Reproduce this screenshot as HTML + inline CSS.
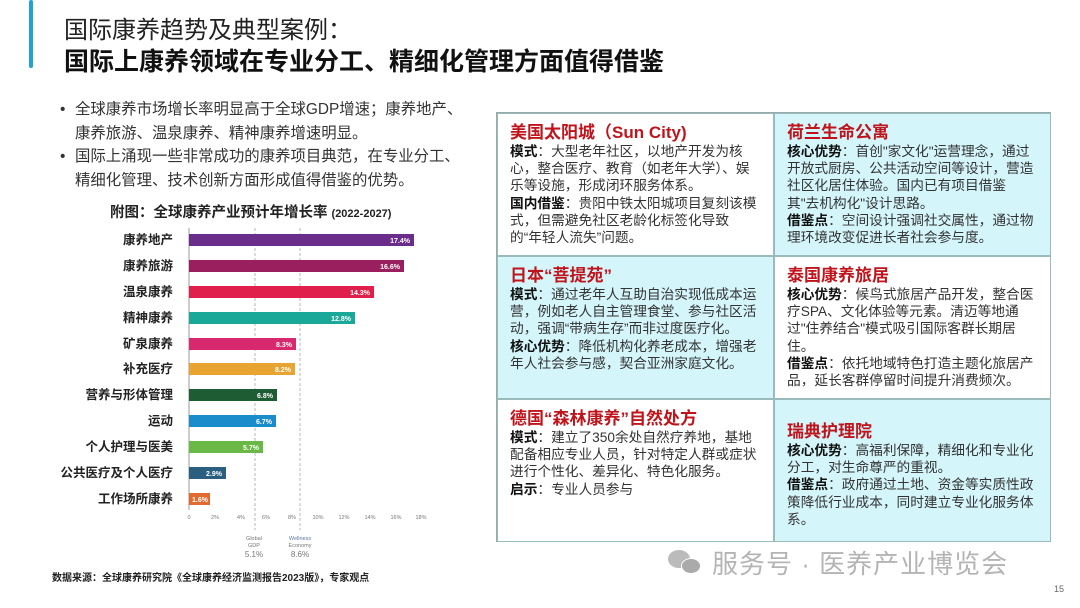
<!DOCTYPE html>
<html><head><meta charset="utf-8"><style>
*{margin:0;padding:0;box-sizing:border-box}
body{width:1080px;height:608px;background:#fff;position:relative;overflow:hidden;font-family:"Liberation Sans","Noto Sans CJK SC",sans-serif;color:#222}
.abs{position:absolute}
.t1{left:64px;top:10px;font-size:24px;color:#222;white-space:nowrap}
.t2{left:64px;top:42px;font-size:25px;font-weight:bold;color:#111;white-space:nowrap}
.bul{left:58px;font-size:15.4px;line-height:23.5px;color:#333;width:440px;white-space:nowrap}
.bul li{list-style:none;position:relative;padding-left:17px}
.bul li:before{content:"•";position:absolute;left:2px}
.grid{left:496px;top:112px;width:555px;height:430px;border:1px solid #9aa;}
.cell{position:absolute;width:277px;height:143px;padding:9px 14px 0 12px;font-size:13.7px;line-height:17.2px;color:#333;border:1px solid #9bb;overflow:hidden}
.cell h3{font-size:17px;color:#c0141c;line-height:20px;margin-bottom:0;white-space:nowrap}
.cell b{color:#111}
.cy{background:#d4f6fb}
</style></head><body>
<div class="abs" style="left:29px;top:0;width:4px;height:68px;background:#1fa3d4;border-radius:2px"></div>
<div class="abs t1">国际康养趋势及典型案例：</div>
<div class="abs t2">国际上康养领域在专业分工、精细化管理方面值得借鉴</div>
<ul class="abs bul" style="top:98px">
<li>全球康养市场增长率明显高于全球GDP增速；康养地产、<br>康养旅游、温泉康养、精神康养增速明显。</li>
<li>国际上涌现一些非常成功的康养项目典范，在专业分工、<br>精细化管理、技术创新方面形成值得借鉴的优势。</li>
</ul>
<div class="abs" style="left:110px;top:201px;font-size:14.5px;font-weight:bold;white-space:nowrap">附图：全球康养产业预计年增长率 <span style="font-size:11px">(2022-2027)</span></div>
<svg class="abs" style="left:0;top:0" width="480" height="608">
<g stroke="#888" stroke-width="0.6" stroke-dasharray="3,2">
<line x1="255" y1="228" x2="255" y2="530"/><line x1="300" y1="228" x2="300" y2="530"/></g>
<line x1="189" y1="228" x2="189" y2="510" stroke="#999"/>
<g font-family="Liberation Sans,Noto Sans CJK SC,sans-serif" font-size="12.5" font-weight="bold" fill="#222" text-anchor="end">
<text x="173" y="244">康养地产</text><text x="173" y="270">康养旅游</text><text x="173" y="296">温泉康养</text><text x="173" y="322">精神康养</text><text x="173" y="348">矿泉康养</text><text x="173" y="373">补充医疗</text><text x="173" y="399">营养与形体管理</text><text x="173" y="425">运动</text><text x="173" y="451">个人护理与医美</text><text x="173" y="477">公共医疗及个人医疗</text><text x="173" y="503">工作场所康养</text></g>
<g>
<rect x="189" y="234" width="225" height="12" fill="#6b2d8a"/>
<rect x="189" y="260" width="215" height="12" fill="#9a1f5e"/>
<rect x="189" y="286" width="185" height="12" fill="#e0204a"/>
<rect x="189" y="312" width="166" height="12" fill="#1aa898"/>
<rect x="189" y="338" width="107" height="12" fill="#d8286e"/>
<rect x="189" y="363" width="106" height="12" fill="#e8a430"/>
<rect x="189" y="389" width="88" height="12" fill="#1e5c34"/>
<rect x="189" y="415" width="87" height="12" fill="#1a8ccc"/>
<rect x="189" y="441" width="74" height="12" fill="#6ab846"/>
<rect x="189" y="467" width="37" height="12" fill="#2a5f80"/>
<rect x="189" y="493" width="21" height="12" fill="#e06a30"/></g>
<g font-family="Liberation Sans,sans-serif" font-size="7" font-weight="bold" fill="#fff" text-anchor="end">
<text x="410" y="243">17.4%</text><text x="400" y="269">16.6%</text><text x="370" y="295">14.3%</text><text x="351" y="321">12.8%</text><text x="292" y="347">8.3%</text><text x="291" y="372">8.2%</text><text x="273" y="398">6.8%</text><text x="272" y="424">6.7%</text><text x="259" y="450">5.7%</text><text x="222" y="476">2.9%</text><text x="208" y="502">1.6%</text></g>
<g font-family="Liberation Sans,sans-serif" font-size="5.5" fill="#777" text-anchor="middle">
<text x="189" y="519">0</text><text x="215" y="519">2%</text><text x="241" y="519">4%</text><text x="266" y="519">6%</text><text x="292" y="519">8%</text><text x="318" y="519">10%</text><text x="344" y="519">12%</text><text x="370" y="519">14%</text><text x="396" y="519">16%</text><text x="421" y="519">18%</text>
<text x="254" y="540">Global</text><text x="254" y="547">GDP</text><text x="300" y="540" fill="#5a7aa0">Wellness</text><text x="300" y="547">Economy</text>
<text x="254" y="557" font-size="8">5.1%</text><text x="300" y="557" font-size="8">8.6%</text></g>
<text x="52" y="581" font-family="Liberation Sans,Noto Sans CJK SC,sans-serif" font-size="10" font-weight="bold" fill="#222">数据来源：全球康养研究院《全球康养经济监测报告2023版》，专家观点</text>
</svg>
<div class="abs grid">
<div class="cell" style="left:0;top:0"><h3>美国太阳城（Sun City)</h3><b>模式</b>：大型老年社区，以地产开发为核心，整合医疗、教育（如老年大学）、娱乐等设施，形成闭环服务体系。<br><b>国内借鉴</b>：贵阳中铁太阳城项目复刻该模式，但需避免社区老龄化标签化导致的“年轻人流失”问题。</div>
<div class="cell cy" style="left:277px;top:0"><h3>荷兰生命公寓</h3><b>核心优势</b>：首创"家文化"运营理念，通过开放式厨房、公共活动空间等设计，营造社区化居住体验。国内已有项目借鉴其"去机构化"设计思路。<br><b>借鉴点</b>：空间设计强调社交属性，通过物理环境改变促进长者社会参与度。</div>
<div class="cell cy" style="left:0;top:143px"><h3>日本“菩提苑”</h3><b>模式</b>：通过老年人互助自治实现低成本运营，例如老人自主管理食堂、参与社区活动，强调“带病生存”而非过度医疗化。<br><b>核心优势</b>：降低机构化养老成本，增强老年人社会参与感，契合亚洲家庭文化。</div>
<div class="cell" style="left:277px;top:143px"><h3>泰国康养旅居</h3><b>核心优势</b>：候鸟式旅居产品开发，整合医疗SPA、文化体验等元素。清迈等地通过"住养结合"模式吸引国际客群长期居住。<br><b>借鉴点</b>：依托地域特色打造主题化旅居产品，延长客群停留时间提升消费频次。</div>
<div class="cell" style="left:0;top:286px"><h3>德国“森林康养”自然处方</h3><b>模式</b>：建立了350余处自然疗养地，基地配备相应专业人员，针对特定人群或症状进行个性化、差异化、特色化服务。<br><b>启示</b>：专业人员参与</div>
<div class="cell cy" style="left:277px;top:286px;padding-top:22px"><h3>瑞典护理院</h3><b>核心优势</b>：高福利保障，精细化和专业化分工，对生命尊严的重视。<br><b>借鉴点</b>：政府通过土地、资金等实质性政策降低行业成本，同时建立专业化服务体系。</div>
</div>
<div class="abs" style="left:668px;top:547px;width:36px;height:30px;">
<div class="abs" style="left:0;top:3px;width:22px;height:18px;border-radius:50%;background:#bbb"></div>
<div class="abs" style="left:13px;top:11px;width:20px;height:16px;border-radius:50%;background:#aaa;border:1px solid #fff"></div></div>
<div class="abs" style="left:712px;top:544px;font-size:26px;color:#b4b4b4;white-space:nowrap;letter-spacing:1px">服务号 · 医养产业博览会</div>
<div class="abs" style="left:1054px;top:584px;font-size:9px;color:#666">15</div>
</body></html>
